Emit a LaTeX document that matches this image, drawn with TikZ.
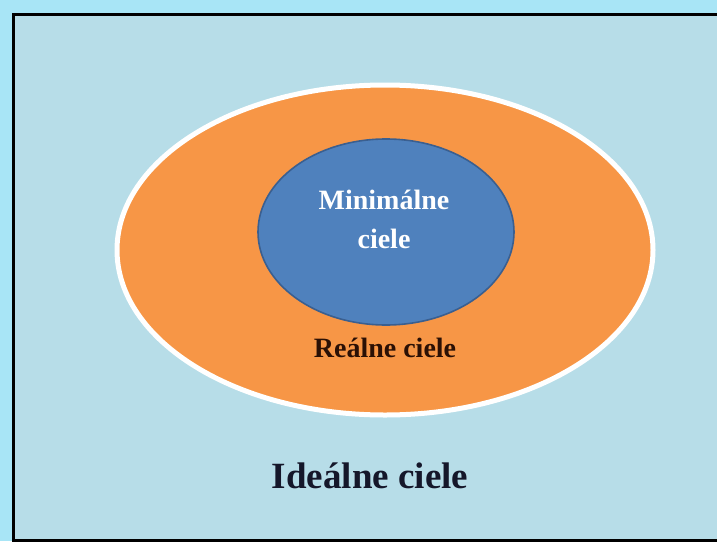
\documentclass[tikz,border=0pt]{standalone}
\usepackage{fontspec}
\setmainfont{Liberation Serif}
\begin{document}
\definecolor{glowcyan}{HTML}{A8E5F6}
\definecolor{panelblue}{HTML}{B7DDE8}
\definecolor{ringorange}{HTML}{F79646}
\definecolor{coreblue}{HTML}{4F81BD}
\definecolor{coreedge}{HTML}{3A5F90}
\definecolor{darkbrown}{HTML}{2B1005}
\definecolor{inkdark}{HTML}{15172A}
\tikzset{
  panel/.style={fill=panelblue, draw=black, line width=3pt},
  ring/.style={fill=ringorange, draw=white, line width=5pt},
  core/.style={fill=coreblue, draw=coreedge, line width=1.6pt},
  lbl/.style={font=\bfseries, anchor=base, inner sep=0pt}
}
\begin{tikzpicture}[x=1pt,y=-1pt]
  % outer glow and page extent
  \fill[glowcyan] (0,0) rectangle (717,541);
  \useasboundingbox (0,0) rectangle (717,541);
  % framed panel running off the right edge
  \path[panel] (13.5,14.5) rectangle (730,540);
  % nested goal ellipses
  \path[ring] (385,250) ellipse [x radius=268, y radius=165];
  \path[core] (386,232) ellipse [x radius=128, y radius=93];
  % labels
  \node[lbl, text=white, font=\bfseries\fontsize{28}{28}\selectfont] (mina) at (384,209) {Minimálne};
  \node[lbl, text=white, font=\bfseries\fontsize{28}{28}\selectfont] (minb) at (384,248) {ciele};
  \node[lbl, text=darkbrown, font=\bfseries\fontsize{28}{28}\selectfont] (real) at (385,357) {Reálne ciele};
  \node[lbl, text=inkdark, font=\bfseries\fontsize{37}{37}\selectfont] (ideal) at (370,488) {Ideálne ciele};
\end{tikzpicture}
\end{document}
